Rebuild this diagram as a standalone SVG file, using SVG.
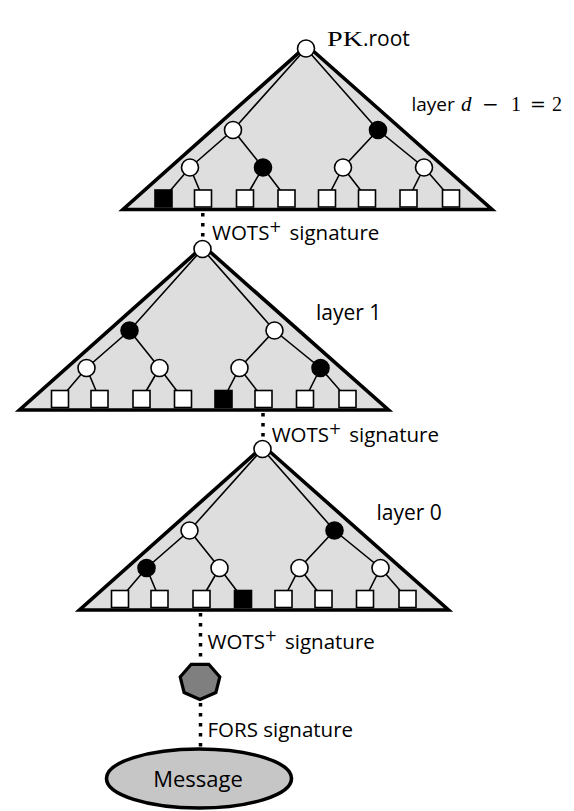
<svg xmlns="http://www.w3.org/2000/svg" width="574" height="811" viewBox="0 0 574 811">
<style>
.tri{fill:#dedede;stroke:#000;stroke-width:3.6;stroke-linejoin:miter}
.edge{fill:none;stroke:#000;stroke-width:1.6}
.dot{fill:none;stroke:#000;stroke-width:3.5;stroke-dasharray:3.5 6.5}
.w{fill:#fff;stroke:#000;stroke-width:1.6}
.b{fill:#000;stroke:#000;stroke-width:1.6}
.lbl{font-family:"Open Sans","Liberation Sans",sans-serif;font-size:20.5px;fill:#000}
.sup{font-family:"DejaVu Sans","Open Sans",sans-serif;font-size:15px;fill:#000}
.math{font-family:"Liberation Serif","DejaVu Serif",serif;fill:#000}
.op{font-family:"DejaVu Serif","Liberation Serif",serif;fill:#000}
</style>
<rect width="574" height="811" fill="#fff"/>
<defs>
<path id="tree-edges" d="M0 0L-73 81.5L-116 119L-142.5 150M-73 81.5L-43 119L-19.5 150M-116 119L-103 150M-43 119L-61 150M0 0L72 81.5L118 119L145 150M72 81.5L37 119L21 150M37 119L61 150M118 119L102.5 150"/>
</defs>
<g id="triangles">
<path class="tri" transform="translate(306,48.5)" d="M1 -3L186 161L-183 161Z"/>
<path class="tri" transform="translate(202.5,249)" d="M1 -3L186 161L-183 161Z"/>
<path class="tri" transform="translate(262.5,449)" d="M1 -3L186 161L-183 161Z"/>
</g>
<g id="connectors">
<use href="#tree-edges" class="edge" transform="translate(306,48.5)"/>
<use href="#tree-edges" class="edge" transform="translate(202.5,249)"/>
<use href="#tree-edges" class="edge" transform="translate(262.5,449)"/>
<line class="dot" x1="202.8" y1="213" x2="202.8" y2="240"/>
<line class="dot" x1="263" y1="413" x2="263" y2="440"/>
<line class="dot" x1="200.5" y1="613" x2="200.5" y2="662"/>
<line class="dot" x1="200.5" y1="703" x2="200.5" y2="748"/>
</g>
<g id="layer2-nodes" transform="translate(306,48.5)">
<g id="l2-root"><circle class="w" cx="0" cy="0" r="8.5"/></g>
<g id="l2-a"><circle class="w" cx="-73" cy="81.5" r="8.5"/></g>
<g id="l2-b"><circle class="b" cx="72" cy="81.5" r="8.5"/></g>
<g id="l2-c"><circle class="w" cx="-116" cy="119" r="8.5"/></g>
<g id="l2-d"><circle class="b" cx="-43" cy="119" r="8.5"/></g>
<g id="l2-e"><circle class="w" cx="37" cy="119" r="8.5"/></g>
<g id="l2-f"><circle class="w" cx="118" cy="119" r="8.5"/></g>
<g id="l2-leaf0"><rect class="b" x="-151" y="141.5" width="17" height="17"/></g>
<g id="l2-leaf1"><rect class="w" x="-111.5" y="141.5" width="17" height="17"/></g>
<g id="l2-leaf2"><rect class="w" x="-69.5" y="141.5" width="17" height="17"/></g>
<g id="l2-leaf3"><rect class="w" x="-28" y="141.5" width="17" height="17"/></g>
<g id="l2-leaf4"><rect class="w" x="12.5" y="141.5" width="17" height="17"/></g>
<g id="l2-leaf5"><rect class="w" x="52.5" y="141.5" width="17" height="17"/></g>
<g id="l2-leaf6"><rect class="w" x="94" y="141.5" width="17" height="17"/></g>
<g id="l2-leaf7"><rect class="w" x="136.5" y="141.5" width="17" height="17"/></g>
</g>
<g id="layer1-nodes" transform="translate(202.5,249)">
<g id="l1-root"><circle class="w" cx="0" cy="0" r="8.5"/></g>
<g id="l1-a"><circle class="b" cx="-73" cy="81.5" r="8.5"/></g>
<g id="l1-b"><circle class="w" cx="72" cy="81.5" r="8.5"/></g>
<g id="l1-c"><circle class="w" cx="-116" cy="119" r="8.5"/></g>
<g id="l1-d"><circle class="w" cx="-43" cy="119" r="8.5"/></g>
<g id="l1-e"><circle class="w" cx="37" cy="119" r="8.5"/></g>
<g id="l1-f"><circle class="b" cx="118" cy="119" r="8.5"/></g>
<g id="l1-leaf0"><rect class="w" x="-151" y="141.5" width="17" height="17"/></g>
<g id="l1-leaf1"><rect class="w" x="-111.5" y="141.5" width="17" height="17"/></g>
<g id="l1-leaf2"><rect class="w" x="-69.5" y="141.5" width="17" height="17"/></g>
<g id="l1-leaf3"><rect class="w" x="-28" y="141.5" width="17" height="17"/></g>
<g id="l1-leaf4"><rect class="b" x="12.5" y="141.5" width="17" height="17"/></g>
<g id="l1-leaf5"><rect class="w" x="52.5" y="141.5" width="17" height="17"/></g>
<g id="l1-leaf6"><rect class="w" x="94" y="141.5" width="17" height="17"/></g>
<g id="l1-leaf7"><rect class="w" x="136.5" y="141.5" width="17" height="17"/></g>
</g>
<g id="layer0-nodes" transform="translate(262.5,449)">
<g id="l0-root"><circle class="w" cx="0" cy="0" r="8.5"/></g>
<g id="l0-a"><circle class="w" cx="-73" cy="81.5" r="8.5"/></g>
<g id="l0-b"><circle class="b" cx="72" cy="81.5" r="8.5"/></g>
<g id="l0-c"><circle class="b" cx="-116" cy="119" r="8.5"/></g>
<g id="l0-d"><circle class="w" cx="-43" cy="119" r="8.5"/></g>
<g id="l0-e"><circle class="w" cx="37" cy="119" r="8.5"/></g>
<g id="l0-f"><circle class="w" cx="118" cy="119" r="8.5"/></g>
<g id="l0-leaf0"><rect class="w" x="-151" y="141.5" width="17" height="17"/></g>
<g id="l0-leaf1"><rect class="w" x="-111.5" y="141.5" width="17" height="17"/></g>
<g id="l0-leaf2"><rect class="w" x="-69.5" y="141.5" width="17" height="17"/></g>
<g id="l0-leaf3"><rect class="b" x="-28" y="141.5" width="17" height="17"/></g>
<g id="l0-leaf4"><rect class="w" x="12.5" y="141.5" width="17" height="17"/></g>
<g id="l0-leaf5"><rect class="w" x="52.5" y="141.5" width="17" height="17"/></g>
<g id="l0-leaf6"><rect class="w" x="94" y="141.5" width="17" height="17"/></g>
<g id="l0-leaf7"><rect class="w" x="136.5" y="141.5" width="17" height="17"/></g>
</g>
<g id="fors-pk">
<polygon points="200,699.5 184.1,692.5 180.2,676.9 191.2,664.3 208.8,664.3 219.8,676.9 215.9,692.5" fill="#7f7f7f" stroke="#000" stroke-width="3.2" stroke-linejoin="miter"/>
</g>
<g id="message">
<ellipse cx="199" cy="778.5" rx="92.5" ry="29.5" fill="#c6c6c6" stroke="#000" stroke-width="3.6"/>
<text class="lbl" x="198" y="787" style="font-size:22px" text-anchor="middle">Message</text>
</g>
<g id="labels">
<text class="math" x="327" y="46" font-size="20" textLength="36" lengthAdjust="spacingAndGlyphs">PK</text>
<text class="lbl" x="363" y="46" style="font-size:21px">.root</text>
<text class="lbl" x="411.5" y="111" style="font-size:19px">layer</text>
<text class="math" x="461" y="111" font-size="21" font-style="italic">d</text>
<text class="op" x="482" y="111" font-size="20">−</text>
<text class="math" x="511" y="111" font-size="20">1</text>
<text class="op" x="530" y="111" font-size="19">=</text>
<text class="math" x="552" y="111" font-size="20">2</text>
<text class="lbl" x="316" y="320" style="font-size:21px">layer 1</text>
<text class="lbl" x="376.5" y="520" style="font-size:21px">layer 0</text>
<text class="lbl" x="212" y="239.5">WOTS</text><text class="sup" x="269" y="232">+</text><text class="lbl" x="289.5" y="239.5">signature</text>
<text class="lbl" x="271.7" y="441.7">WOTS</text><text class="sup" x="328.7" y="434.2">+</text><text class="lbl" x="349.2" y="441.7">signature</text>
<text class="lbl" x="207.5" y="648.5">WOTS</text><text class="sup" x="264.5" y="641">+</text><text class="lbl" x="285" y="648.5">signature</text>
<text class="lbl" x="207.5" y="736.5">FORS signature</text>
</g>
</svg>
